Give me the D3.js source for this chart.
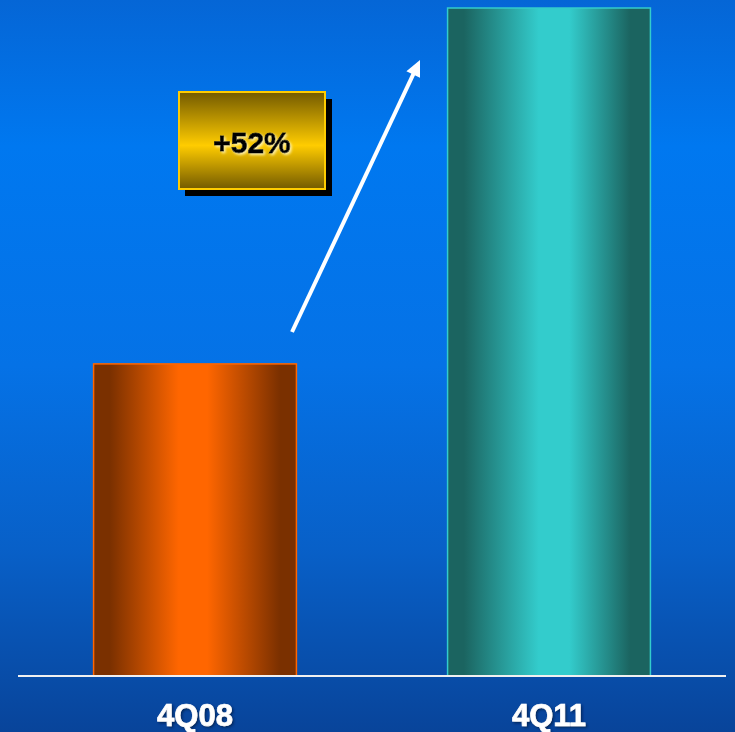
<!DOCTYPE html>
<html>
<head>
<meta charset="utf-8">
<script src="https://cdn.jsdelivr.net/npm/d3@7/dist/d3.min.js"></script>
<style>
  html, body { margin: 0; padding: 0; background: #0566d6; }
  svg { display: block; }
  .lbl { font-family: "Liberation Sans", Arial, sans-serif; font-weight: 700; }
</style>
</head>
<body>
<script>
// Quarterly index values (4Q08 = 100)
const periods = ["4Q08", "4Q11"];
const values = [100, 152];
const barColors = [
  { edge: "#7a3000", mid: "#ff6600", stroke: "#ff6600" },
  { edge: "#1b6460", mid: "#33cccc", stroke: "#33cccc" }
];

const W = 735, H = 732;
const svg = d3.select("body").append("svg").attr("width", W).attr("height", H);
const defs = svg.append("defs");

// Background: vertical blue wash
const bg = defs.append("linearGradient").attr("id", "bg").attr("x1", 0).attr("y1", 0).attr("x2", 0).attr("y2", 1);
[[0, "#0566d6"], [0.2, "#0078f0"], [0.5, "#0572e6"], [0.75, "#0860c8"], [1, "#08449a"]]
  .forEach(([o, c]) => bg.append("stop").attr("offset", o).attr("stop-color", c));
svg.append("rect").attr("width", W).attr("height", H).attr("fill", "url(#bg)");

// Horizontal cylinder shading for each bar (offset, edge=0 / centre=1)
const shade = [
  [[0, 0], [0.08, 0], [0.42, 1], [0.56, 1], [0.92, 0], [1, 0]],
  [[0, 0], [0.08, 0], [0.45, 1], [0.6, 1], [0.9, 0], [1, 0]]
];
barColors.forEach((c, i) => {
  const g = defs.append("linearGradient").attr("id", "bar" + i).attr("x1", 0).attr("x2", 1).attr("y1", 0).attr("y2", 0);
  shade[i].forEach(([o, t]) => g.append("stop").attr("offset", o).attr("stop-color", t ? c.mid : c.edge));
});

// Gold badge shading
const gold = defs.append("linearGradient").attr("id", "gold").attr("x1", 0).attr("x2", 0).attr("y1", 0).attr("y2", 1);
[[0, "#735a00"], [0.55, "#ffcc00"], [1, "#735a00"]]
  .forEach(([o, c]) => gold.append("stop").attr("offset", o).attr("stop-color", c));

// Soft drop shadow for the category labels
const sh = defs.append("filter").attr("id", "txtShadow").attr("x", "-20%").attr("y", "-20%").attr("width", "140%").attr("height", "140%");
sh.append("feDropShadow").attr("dx", 1.5).attr("dy", 1.5).attr("stdDeviation", 0.8).attr("flood-color", "#002050").attr("flood-opacity", 0.8);

// Light glow behind the badge text
const glow = defs.append("filter").attr("id", "glow").attr("x", "-20%").attr("y", "-20%").attr("width", "140%").attr("height", "140%");
glow.append("feDropShadow").attr("dx", 1.5).attr("dy", 1.5).attr("stdDeviation", 0.8).attr("flood-color", "#fff6c0").attr("flood-opacity", 0.9);

// Scales
const x = d3.scaleBand().domain(periods).range([18, 726]).paddingInner(0.427).paddingOuter(0.2135);
const y = d3.scaleLinear().domain([54.4, 152]).range([676, 8]);

// Bars
svg.append("g").selectAll("rect").data(periods).join("rect")
  .attr("x", d => x(d))
  .attr("y", (d, i) => y(values[i]))
  .attr("width", x.bandwidth())
  .attr("height", (d, i) => y.range()[0] - y(values[i]))
  .attr("fill", (d, i) => `url(#bar${i})`)
  .attr("stroke", (d, i) => barColors[i].stroke)
  .attr("stroke-width", 1.5);

// Baseline
svg.append("line").attr("x1", 18).attr("x2", 726).attr("y1", 676).attr("y2", 676)
  .attr("stroke", "#f0f0f0").attr("stroke-width", 2);

// Category axis labels
const xAxis = svg.append("g").attr("transform", "translate(0,676)")
  .call(d3.axisBottom(x).tickSize(0).tickPadding(0));
xAxis.select(".domain").remove();
xAxis.attr("font-family", null).attr("font-size", null);
xAxis.selectAll("text")
  .attr("class", "lbl")
  .attr("y", 50).attr("dy", 0)
  .attr("fill", "#fff")
  .attr("stroke", "#fff").attr("stroke-width", 0.7)
  .style("font-size", "31px")
  .attr("filter", "url(#txtShadow)");

// Growth arrow between bars
const ax0 = 292, ay0 = 332, ax1 = 420, ay1 = 60;
const ang = Math.atan2(ay1 - ay0, ax1 - ax0);
const headLen = 16, headHalf = 7.5;
const bx = ax1 - headLen * Math.cos(ang), by = ay1 - headLen * Math.sin(ang);
svg.append("line")
  .attr("x1", ax0).attr("y1", ay0).attr("x2", bx + 2 * Math.cos(ang)).attr("y2", by + 2 * Math.sin(ang))
  .attr("stroke", "#fff").attr("stroke-width", 4);
svg.append("path")
  .attr("d", d3.line()([
    [ax1, ay1],
    [bx + headHalf * Math.sin(ang), by - headHalf * Math.cos(ang)],
    [bx - headHalf * Math.sin(ang), by + headHalf * Math.cos(ang)]
  ]) + "Z")
  .attr("fill", "#fff");

// Growth badge
const growth = Math.round((values[1] / values[0] - 1) * 100);
const badge = svg.append("g");
badge.append("rect").attr("x", 185).attr("y", 99).attr("width", 147).attr("height", 97).attr("fill", "#000");
badge.append("rect").attr("x", 179).attr("y", 92).attr("width", 146).attr("height", 97)
  .attr("fill", "url(#gold)").attr("stroke", "#ffcc00").attr("stroke-width", 2);
badge.append("text").attr("class", "lbl").attr("x", 252).attr("y", 153).attr("text-anchor", "middle")
  .style("font-size", "30px").attr("fill", "#000").attr("stroke", "#000").attr("stroke-width", 0.8)
  .attr("filter", "url(#glow)")
  .text(`+${growth}%`);
</script>
</body>
</html>
